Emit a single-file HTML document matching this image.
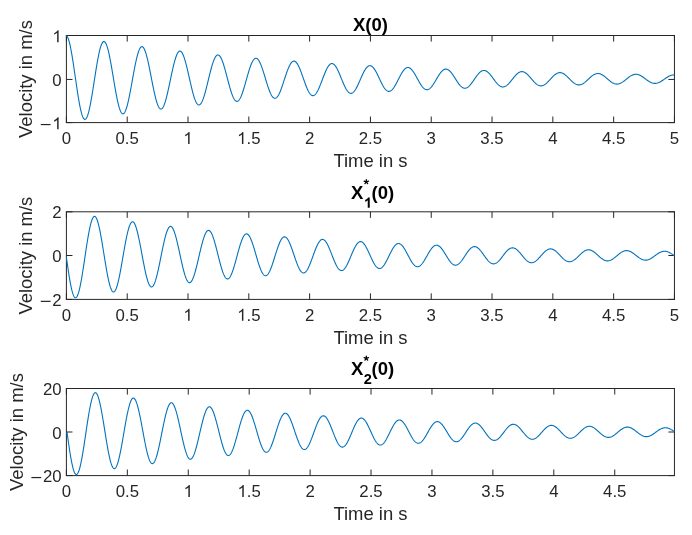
<!DOCTYPE html>
<html><head><meta charset="utf-8"><style>
html,body{margin:0;padding:0;background:#fff;overflow:hidden}
svg{display:block}
.t text{filter:grayscale(1);font-family:"Liberation Sans",sans-serif}
</style></head><body>
<svg width="692" height="535" viewBox="0 0 692 535" font-family="Liberation Sans">
<rect width="692" height="535" fill="#fff"/>
<path d="M66.40,122.60V116.52M66.40,35.50V41.58M127.21,122.60V116.52M127.21,35.50V41.58M188.01,122.60V116.52M188.01,35.50V41.58M248.82,122.60V116.52M248.82,35.50V41.58M309.62,122.60V116.52M309.62,35.50V41.58M370.43,122.60V116.52M370.43,35.50V41.58M431.23,122.60V116.52M431.23,35.50V41.58M492.04,122.60V116.52M492.04,35.50V41.58M552.84,122.60V116.52M552.84,35.50V41.58M613.65,122.60V116.52M613.65,35.50V41.58M674.45,122.60V116.52M674.45,35.50V41.58M66.40,122.60H72.48M674.45,122.60H668.37M66.40,79.45H72.48M674.45,79.45H668.37M66.40,35.50H72.48M674.45,35.50H668.37" stroke="#262626" stroke-width="1" fill="none"/>
<path d="M65.90,35.50H674.95M65.90,122.60H674.95M66.40,35.50V122.60M674.45,35.50V122.60" fill="none" stroke="#262626" stroke-width="1"/>
<polyline fill="none" stroke="#0072bd" stroke-width="1.1" stroke-linejoin="round" points="66.40,35.64 66.80,35.96 67.20,36.47 67.60,37.16 68.00,38.04 68.40,39.09 68.80,40.31 69.20,41.69 69.60,43.24 70.00,44.94 70.40,46.78 70.80,48.75 71.20,50.85 71.60,53.07 72.00,55.40 72.40,57.82 72.80,60.32 73.20,62.90 73.60,65.54 74.00,68.23 74.40,70.96 74.80,73.72 75.20,76.49 75.60,79.27 76.00,82.03 76.40,84.77 76.80,87.48 77.20,90.15 77.60,92.75 78.00,95.29 78.40,97.75 78.80,100.12 79.20,102.39 79.60,104.55 80.00,106.59 80.40,108.51 80.80,110.29 81.20,111.93 81.60,113.41 82.00,114.75 82.40,115.92 82.80,116.93 83.20,117.77 83.60,118.44 84.00,118.93 84.40,119.25 84.80,119.39 85.20,119.36 85.60,119.14 86.00,118.76 86.40,118.20 86.80,117.47 87.20,116.57 87.60,115.52 88.00,114.31 88.40,112.94 88.80,111.44 89.20,109.79 89.60,108.02 90.00,106.12 90.40,104.12 90.80,102.01 91.20,99.80 91.60,97.51 92.00,95.15 92.40,92.72 92.80,90.25 93.20,87.73 93.60,85.18 94.00,82.61 94.40,80.03 94.80,77.46 95.20,74.90 95.60,72.37 96.00,69.87 96.40,67.42 96.80,65.03 97.20,62.71 97.60,60.47 98.00,58.31 98.40,56.25 98.80,54.30 99.20,52.46 99.60,50.75 100.00,49.16 100.40,47.71 100.80,46.39 101.20,45.23 101.60,44.22 102.00,43.36 102.40,42.66 102.80,42.12 103.20,41.74 103.60,41.53 104.00,41.48 104.40,41.60 104.80,41.88 105.20,42.32 105.60,42.92 106.00,43.67 106.40,44.58 106.80,45.63 107.20,46.83 107.60,48.16 108.00,49.63 108.40,51.22 108.80,52.92 109.20,54.74 109.60,56.65 110.00,58.65 110.40,60.74 110.80,62.90 111.20,65.13 111.60,67.41 112.00,69.73 112.40,72.09 112.80,74.46 113.20,76.86 113.60,79.25 114.00,81.63 114.40,84.00 114.80,86.33 115.20,88.63 115.60,90.88 116.00,93.07 116.40,95.19 116.80,97.23 117.20,99.19 117.60,101.05 118.00,102.81 118.40,104.46 118.80,106.00 119.20,107.41 119.60,108.70 120.00,109.85 120.40,110.86 120.80,111.73 121.20,112.45 121.60,113.02 122.00,113.45 122.40,113.72 122.80,113.84 123.20,113.81 123.60,113.63 124.00,113.29 124.40,112.81 124.80,112.18 125.20,111.40 125.60,110.49 126.00,109.45 126.40,108.27 126.80,106.97 127.21,105.55 127.61,104.02 128.01,102.38 128.41,100.65 128.81,98.83 129.21,96.93 129.61,94.95 130.01,92.91 130.41,90.82 130.81,88.68 131.21,86.51 131.61,84.31 132.01,82.09 132.41,79.87 132.81,77.65 133.21,75.44 133.61,73.26 134.01,71.11 134.41,69.00 134.81,66.94 135.21,64.93 135.61,63.00 136.01,61.14 136.41,59.37 136.81,57.68 137.21,56.10 137.61,54.62 138.01,53.25 138.41,52.00 138.81,50.87 139.21,49.86 139.61,48.99 140.01,48.25 140.41,47.65 140.81,47.18 141.21,46.86 141.61,46.68 142.01,46.64 142.41,46.74 142.81,46.98 143.21,47.36 143.61,47.88 144.01,48.53 144.41,49.31 144.81,50.23 145.21,51.26 145.61,52.41 146.01,53.67 146.41,55.05 146.81,56.52 147.21,58.08 147.61,59.73 148.01,61.46 148.41,63.27 148.81,65.13 149.21,67.05 149.61,69.02 150.01,71.02 150.41,73.05 150.81,75.10 151.21,77.17 151.61,79.23 152.01,81.29 152.41,83.33 152.81,85.34 153.21,87.32 153.61,89.26 154.01,91.15 154.41,92.98 154.81,94.74 155.21,96.43 155.61,98.03 156.01,99.55 156.41,100.98 156.81,102.30 157.21,103.52 157.61,104.62 158.01,105.61 158.41,106.49 158.81,107.23 159.21,107.86 159.61,108.35 160.01,108.72 160.41,108.95 160.81,109.06 161.21,109.03 161.61,108.87 162.01,108.58 162.41,108.16 162.81,107.61 163.21,106.95 163.61,106.16 164.01,105.25 164.41,104.24 164.81,103.12 165.21,101.89 165.61,100.57 166.01,99.16 166.41,97.66 166.81,96.09 167.21,94.45 167.61,92.75 168.01,90.99 168.41,89.18 168.81,87.34 169.21,85.46 169.61,83.57 170.01,81.65 170.41,79.74 170.81,77.82 171.21,75.92 171.61,74.03 172.01,72.18 172.41,70.36 172.81,68.58 173.21,66.85 173.61,65.18 174.01,63.58 174.41,62.05 174.81,60.60 175.21,59.23 175.61,57.96 176.01,56.78 176.41,55.70 176.81,54.73 177.21,53.86 177.61,53.11 178.01,52.47 178.41,51.95 178.81,51.55 179.21,51.27 179.61,51.12 180.01,51.08 180.41,51.17 180.81,51.38 181.21,51.71 181.61,52.16 182.01,52.72 182.41,53.40 182.81,54.19 183.21,55.08 183.61,56.07 184.01,57.16 184.41,58.35 184.81,59.62 185.21,60.97 185.61,62.39 186.01,63.89 186.41,65.44 186.81,67.05 187.21,68.71 187.61,70.40 188.01,72.13 188.41,73.88 188.81,75.65 189.21,77.43 189.61,79.21 190.01,80.99 190.41,82.75 190.81,84.48 191.21,86.19 191.61,87.86 192.01,89.49 192.41,91.07 192.81,92.59 193.21,94.04 193.61,95.43 194.01,96.74 194.41,97.97 194.81,99.11 195.21,100.16 195.61,101.11 196.01,101.96 196.41,102.71 196.81,103.36 197.21,103.90 197.61,104.32 198.01,104.64 198.41,104.84 198.81,104.93 199.21,104.90 199.61,104.76 200.01,104.51 200.41,104.15 200.81,103.68 201.21,103.10 201.61,102.42 202.01,101.64 202.41,100.76 202.81,99.79 203.21,98.74 203.61,97.60 204.01,96.38 204.41,95.09 204.81,93.73 205.21,92.32 205.61,90.85 206.01,89.33 206.41,87.77 206.81,86.18 207.21,84.56 207.61,82.93 208.01,81.28 208.41,79.62 208.81,77.97 209.21,76.33 209.61,74.70 210.01,73.10 210.41,71.53 210.81,70.00 211.21,68.51 211.61,67.07 212.01,65.69 212.41,64.37 212.81,63.12 213.21,61.94 213.61,60.84 214.01,59.82 214.41,58.89 214.81,58.05 215.21,57.31 215.61,56.66 216.01,56.11 216.41,55.67 216.81,55.32 217.21,55.08 217.61,54.95 218.01,54.92 218.41,55.00 218.81,55.18 219.21,55.46 219.61,55.85 220.01,56.34 220.41,56.92 220.81,57.60 221.21,58.37 221.61,59.23 222.01,60.17 222.41,61.19 222.81,62.29 223.21,63.45 223.61,64.68 224.01,65.97 224.41,67.31 224.81,68.70 225.21,70.13 225.61,71.60 226.01,73.09 226.41,74.60 226.81,76.13 227.21,77.66 227.61,79.20 228.01,80.73 228.41,82.24 228.81,83.74 229.21,85.22 229.61,86.66 230.01,88.06 230.41,89.42 230.81,90.73 231.21,91.99 231.61,93.18 232.01,94.31 232.41,95.37 232.81,96.35 233.21,97.26 233.61,98.08 234.01,98.81 234.41,99.46 234.81,100.02 235.21,100.48 235.61,100.85 236.01,101.12 236.41,101.29 236.81,101.36 237.21,101.34 237.61,101.22 238.01,101.00 238.41,100.69 238.81,100.28 239.21,99.79 239.61,99.20 240.01,98.52 240.41,97.77 240.81,96.93 241.21,96.02 241.61,95.03 242.01,93.98 242.41,92.87 242.81,91.70 243.21,90.48 243.61,89.21 244.01,87.90 244.41,86.56 244.81,85.18 245.21,83.79 245.61,82.37 246.01,80.95 246.41,79.53 246.81,78.10 247.21,76.69 247.61,75.28 248.01,73.90 248.41,72.55 248.82,71.23 249.22,69.94 249.62,68.70 250.02,67.51 250.42,66.37 250.82,65.29 251.22,64.28 251.62,63.33 252.02,62.45 252.42,61.65 252.82,60.93 253.22,60.29 253.62,59.73 254.02,59.25 254.42,58.87 254.82,58.57 255.22,58.37 255.62,58.25 256.02,58.23 256.42,58.30 256.82,58.45 257.22,58.70 257.62,59.03 258.02,59.46 258.42,59.96 258.82,60.55 259.22,61.21 259.62,61.95 260.02,62.77 260.42,63.65 260.82,64.59 261.22,65.60 261.62,66.66 262.02,67.77 262.42,68.93 262.82,70.13 263.22,71.36 263.62,72.62 264.02,73.91 264.42,75.21 264.82,76.53 265.22,77.85 265.62,79.18 266.02,80.50 266.42,81.81 266.82,83.10 267.22,84.37 267.62,85.62 268.02,86.83 268.42,88.00 268.82,89.13 269.22,90.21 269.62,91.24 270.02,92.21 270.42,93.13 270.82,93.97 271.22,94.75 271.62,95.46 272.02,96.10 272.42,96.65 272.82,97.13 273.22,97.53 273.62,97.85 274.02,98.08 274.42,98.23 274.82,98.29 275.22,98.27 275.62,98.17 276.02,97.98 276.42,97.71 276.82,97.36 277.22,96.93 277.62,96.42 278.02,95.84 278.42,95.18 278.82,94.46 279.22,93.67 279.62,92.82 280.02,91.92 280.42,90.96 280.82,89.95 281.22,88.89 281.62,87.80 282.02,86.67 282.42,85.51 282.82,84.32 283.22,83.12 283.62,81.90 284.02,80.67 284.42,79.44 284.82,78.22 285.22,76.99 285.62,75.78 286.02,74.59 286.42,73.43 286.82,72.29 287.22,71.18 287.62,70.11 288.02,69.08 288.42,68.10 288.82,67.17 289.22,66.29 289.62,65.48 290.02,64.72 290.42,64.03 290.82,63.41 291.22,62.85 291.62,62.37 292.02,61.96 292.42,61.63 292.82,61.38 293.22,61.20 293.62,61.10 294.02,61.08 294.42,61.14 294.82,61.28 295.22,61.49 295.62,61.78 296.02,62.14 296.42,62.58 296.82,63.09 297.22,63.66 297.62,64.30 298.02,65.00 298.42,65.76 298.82,66.58 299.22,67.45 299.62,68.36 300.02,69.32 300.42,70.32 300.82,71.35 301.22,72.42 301.62,73.51 302.02,74.62 302.42,75.74 302.82,76.88 303.22,78.02 303.62,79.16 304.02,80.30 304.42,81.43 304.82,82.55 305.22,83.64 305.62,84.71 306.02,85.76 306.42,86.77 306.82,87.74 307.22,88.68 307.62,89.56 308.02,90.40 308.42,91.19 308.82,91.92 309.22,92.59 309.62,93.20 310.02,93.75 310.42,94.23 310.82,94.64 311.22,94.99 311.62,95.26 312.02,95.46 312.42,95.59 312.82,95.64 313.22,95.62 313.62,95.53 314.02,95.37 314.42,95.13 314.82,94.83 315.22,94.46 315.62,94.02 316.02,93.52 316.42,92.95 316.82,92.33 317.22,91.65 317.62,90.92 318.02,90.14 318.42,89.31 318.82,88.43 319.22,87.52 319.62,86.58 320.02,85.61 320.42,84.61 320.82,83.58 321.22,82.55 321.62,81.49 322.02,80.44 322.42,79.37 322.82,78.31 323.22,77.26 323.62,76.22 324.02,75.19 324.42,74.18 324.82,73.20 325.22,72.25 325.62,71.32 326.02,70.44 326.42,69.59 326.82,68.79 327.22,68.03 327.62,67.33 328.02,66.68 328.42,66.08 328.82,65.55 329.22,65.07 329.62,64.65 330.02,64.30 330.42,64.02 330.82,63.80 331.22,63.65 331.62,63.56 332.02,63.55 332.42,63.60 332.82,63.71 333.22,63.90 333.62,64.15 334.02,64.46 334.42,64.84 334.82,65.28 335.22,65.77 335.62,66.33 336.02,66.93 336.42,67.59 336.82,68.29 337.22,69.04 337.62,69.83 338.02,70.66 338.42,71.52 338.82,72.41 339.22,73.33 339.62,74.27 340.02,75.23 340.42,76.20 340.82,77.18 341.22,78.16 341.62,79.15 342.02,80.13 342.42,81.10 342.82,82.07 343.22,83.01 343.62,83.94 344.02,84.84 344.42,85.71 344.82,86.55 345.22,87.35 345.62,88.12 346.02,88.84 346.42,89.52 346.82,90.15 347.22,90.73 347.62,91.26 348.02,91.73 348.42,92.14 348.82,92.50 349.22,92.79 349.62,93.03 350.02,93.20 350.42,93.31 350.82,93.35 351.22,93.34 351.62,93.26 352.02,93.12 352.42,92.92 352.82,92.65 353.22,92.33 353.62,91.95 354.02,91.52 354.42,91.03 354.82,90.49 355.22,89.91 355.62,89.28 356.02,88.60 356.42,87.88 356.82,87.13 357.22,86.35 357.62,85.53 358.02,84.69 358.42,83.83 358.82,82.95 359.22,82.05 359.62,81.14 360.02,80.23 360.42,79.32 360.82,78.40 361.22,77.49 361.62,76.59 362.02,75.71 362.42,74.84 362.82,73.99 363.22,73.17 363.62,72.37 364.02,71.61 364.42,70.88 364.82,70.19 365.22,69.54 365.62,68.93 366.02,68.37 366.42,67.85 366.82,67.39 367.22,66.98 367.62,66.62 368.02,66.32 368.42,66.07 368.82,65.89 369.22,65.76 369.62,65.68 370.02,65.67 370.43,65.71 370.83,65.82 371.23,65.98 371.63,66.19 372.03,66.46 372.43,66.79 372.83,67.17 373.23,67.59 373.63,68.07 374.03,68.59 374.43,69.16 374.83,69.77 375.23,70.41 375.63,71.10 376.03,71.81 376.43,72.55 376.83,73.32 377.23,74.12 377.63,74.93 378.03,75.75 378.43,76.59 378.83,77.43 379.23,78.28 379.63,79.13 380.03,79.98 380.43,80.82 380.83,81.65 381.23,82.47 381.63,83.26 382.03,84.04 382.43,84.79 382.83,85.52 383.23,86.21 383.63,86.87 384.03,87.49 384.43,88.08 384.83,88.62 385.23,89.12 385.63,89.57 386.03,89.98 386.43,90.34 386.83,90.64 387.23,90.90 387.63,91.10 388.03,91.25 388.43,91.34 388.83,91.38 389.23,91.37 389.63,91.30 390.03,91.18 390.43,91.00 390.83,90.77 391.23,90.50 391.63,90.17 392.03,89.80 392.43,89.38 392.83,88.91 393.23,88.40 393.63,87.86 394.03,87.28 394.43,86.66 394.83,86.01 395.23,85.33 395.63,84.63 396.03,83.90 396.43,83.16 396.83,82.40 397.23,81.63 397.63,80.84 398.03,80.06 398.43,79.27 398.83,78.48 399.23,77.69 399.63,76.92 400.03,76.15 400.43,75.40 400.83,74.67 401.23,73.96 401.63,73.28 402.03,72.62 402.43,71.99 402.83,71.39 403.23,70.83 403.63,70.31 404.03,69.82 404.43,69.38 404.83,68.98 405.23,68.63 405.63,68.32 406.03,68.06 406.43,67.85 406.83,67.69 407.23,67.57 407.63,67.51 408.03,67.50 408.43,67.54 408.83,67.63 409.23,67.77 409.63,67.95 410.03,68.19 410.43,68.47 410.83,68.79 411.23,69.16 411.63,69.58 412.03,70.03 412.43,70.52 412.83,71.04 413.23,71.60 413.63,72.19 414.03,72.80 414.43,73.45 414.83,74.11 415.23,74.79 415.63,75.49 416.03,76.20 416.43,76.93 416.83,77.66 417.23,78.39 417.63,79.12 418.03,79.85 418.43,80.58 418.83,81.29 419.23,82.00 419.63,82.68 420.03,83.35 420.43,84.00 420.83,84.63 421.23,85.22 421.63,85.79 422.03,86.33 422.43,86.84 422.83,87.30 423.23,87.73 423.63,88.12 424.03,88.47 424.43,88.78 424.83,89.05 425.23,89.26 425.63,89.44 426.03,89.57 426.43,89.65 426.83,89.68 427.23,89.67 427.63,89.61 428.03,89.50 428.43,89.35 428.83,89.16 429.23,88.92 429.63,88.63 430.03,88.31 430.43,87.95 430.83,87.55 431.23,87.11 431.63,86.64 432.03,86.13 432.43,85.60 432.83,85.04 433.23,84.46 433.63,83.85 434.03,83.22 434.43,82.58 434.83,81.93 435.23,81.26 435.63,80.59 436.03,79.91 436.43,79.22 436.83,78.54 437.23,77.87 437.63,77.20 438.03,76.54 438.43,75.89 438.83,75.26 439.23,74.65 439.63,74.06 440.03,73.49 440.43,72.95 440.83,72.44 441.23,71.95 441.63,71.50 442.03,71.08 442.43,70.70 442.83,70.36 443.23,70.05 443.63,69.79 444.03,69.56 444.43,69.38 444.83,69.24 445.23,69.14 445.63,69.09 446.03,69.08 446.43,69.12 446.83,69.19 447.23,69.31 447.63,69.47 448.03,69.68 448.43,69.92 448.83,70.20 449.23,70.52 449.63,70.87 450.03,71.26 450.43,71.69 450.83,72.14 451.23,72.62 451.63,73.13 452.03,73.66 452.43,74.21 452.83,74.79 453.23,75.37 453.63,75.98 454.03,76.59 454.43,77.22 454.83,77.85 455.23,78.48 455.63,79.11 456.03,79.74 456.43,80.37 456.83,80.98 457.23,81.59 457.63,82.18 458.03,82.76 458.43,83.32 458.83,83.86 459.23,84.37 459.63,84.86 460.03,85.33 460.43,85.76 460.83,86.17 461.23,86.54 461.63,86.87 462.03,87.17 462.43,87.44 462.83,87.67 463.23,87.86 463.63,88.00 464.03,88.11 464.43,88.18 464.83,88.21 465.23,88.20 465.63,88.15 466.03,88.06 466.43,87.93 466.83,87.76 467.23,87.55 467.63,87.31 468.03,87.03 468.43,86.71 468.83,86.37 469.23,85.99 469.63,85.58 470.03,85.15 470.43,84.69 470.83,84.21 471.23,83.70 471.63,83.18 472.03,82.64 472.43,82.09 472.83,81.52 473.23,80.94 473.63,80.36 474.03,79.78 474.43,79.19 474.83,78.60 475.23,78.02 475.63,77.44 476.03,76.87 476.43,76.32 476.83,75.77 477.23,75.24 477.63,74.73 478.03,74.24 478.43,73.78 478.83,73.33 479.23,72.92 479.63,72.53 480.03,72.17 480.43,71.84 480.83,71.54 481.23,71.28 481.63,71.05 482.03,70.86 482.43,70.70 482.83,70.58 483.23,70.50 483.63,70.45 484.03,70.44 484.43,70.47 484.83,70.54 485.23,70.64 485.63,70.78 486.03,70.96 486.43,71.17 486.83,71.41 487.23,71.69 487.63,71.99 488.03,72.33 488.43,72.69 488.83,73.08 489.23,73.50 489.63,73.94 490.03,74.40 490.43,74.87 490.83,75.37 491.23,75.88 491.63,76.40 492.04,76.93 492.44,77.47 492.84,78.01 493.24,78.55 493.64,79.10 494.04,79.64 494.44,80.18 494.84,80.71 495.24,81.24 495.64,81.75 496.04,82.25 496.44,82.73 496.84,83.19 497.24,83.64 497.64,84.06 498.04,84.46 498.44,84.84 498.84,85.18 499.24,85.50 499.64,85.79 500.04,86.05 500.44,86.28 500.84,86.48 501.24,86.64 501.64,86.77 502.04,86.86 502.44,86.92 502.84,86.95 503.24,86.94 503.64,86.89 504.04,86.81 504.44,86.70 504.84,86.55 505.24,86.37 505.64,86.16 506.04,85.92 506.44,85.65 506.84,85.35 507.24,85.03 507.64,84.68 508.04,84.30 508.44,83.91 508.84,83.49 509.24,83.05 509.64,82.60 510.04,82.14 510.44,81.66 510.84,81.17 511.24,80.67 511.64,80.17 512.04,79.67 512.44,79.16 512.84,78.65 513.24,78.15 513.64,77.65 514.04,77.16 514.44,76.68 514.84,76.21 515.24,75.76 515.64,75.32 516.04,74.89 516.44,74.49 516.84,74.11 517.24,73.75 517.64,73.41 518.04,73.10 518.44,72.82 518.84,72.57 519.24,72.34 519.64,72.14 520.04,71.98 520.44,71.84 520.84,71.74 521.24,71.67 521.64,71.63 522.04,71.62 522.44,71.65 522.84,71.70 523.24,71.79 523.64,71.91 524.04,72.06 524.44,72.25 524.84,72.46 525.24,72.69 525.64,72.96 526.04,73.25 526.44,73.56 526.84,73.90 527.24,74.26 527.64,74.64 528.04,75.03 528.44,75.44 528.84,75.87 529.24,76.31 529.64,76.76 530.04,77.22 530.44,77.68 530.84,78.15 531.24,78.62 531.64,79.09 532.04,79.56 532.44,80.02 532.84,80.48 533.24,80.93 533.64,81.37 534.04,81.80 534.44,82.22 534.84,82.62 535.24,83.00 535.64,83.37 536.04,83.71 536.44,84.04 536.84,84.34 537.24,84.61 537.64,84.86 538.04,85.09 538.44,85.28 538.84,85.45 539.24,85.59 539.64,85.70 540.04,85.78 540.44,85.83 540.84,85.85 541.24,85.85 541.64,85.81 542.04,85.74 542.44,85.64 542.84,85.51 543.24,85.36 543.64,85.18 544.04,84.97 544.44,84.74 544.84,84.48 545.24,84.20 545.64,83.89 546.04,83.57 546.44,83.23 546.84,82.87 547.24,82.49 547.64,82.10 548.04,81.70 548.44,81.29 548.84,80.87 549.24,80.44 549.64,80.01 550.04,79.57 550.44,79.13 550.84,78.70 551.24,78.26 551.64,77.83 552.04,77.41 552.44,77.00 552.84,76.59 553.24,76.20 553.64,75.82 554.04,75.46 554.44,75.11 554.84,74.78 555.24,74.47 555.64,74.18 556.04,73.91 556.44,73.67 556.84,73.45 557.24,73.25 557.64,73.08 558.04,72.94 558.44,72.82 558.84,72.73 559.24,72.67 559.64,72.64 560.04,72.63 560.44,72.66 560.84,72.71 561.24,72.78 561.64,72.89 562.04,73.02 562.44,73.18 562.84,73.36 563.24,73.56 563.64,73.79 564.04,74.04 564.44,74.31 564.84,74.60 565.24,74.91 565.64,75.24 566.04,75.58 566.44,75.94 566.84,76.30 567.24,76.68 567.64,77.07 568.04,77.46 568.44,77.86 568.84,78.27 569.24,78.67 569.64,79.08 570.04,79.48 570.44,79.89 570.84,80.28 571.24,80.67 571.64,81.05 572.04,81.42 572.44,81.78 572.84,82.13 573.24,82.46 573.64,82.77 574.04,83.07 574.44,83.35 574.84,83.60 575.24,83.84 575.64,84.06 576.04,84.25 576.44,84.42 576.84,84.57 577.24,84.69 577.64,84.78 578.04,84.85 578.44,84.89 578.84,84.91 579.24,84.90 579.64,84.87 580.04,84.81 580.44,84.73 580.84,84.62 581.24,84.48 581.64,84.33 582.04,84.15 582.44,83.95 582.84,83.72 583.24,83.48 583.64,83.22 584.04,82.94 584.44,82.65 584.84,82.34 585.24,82.01 585.64,81.67 586.04,81.33 586.44,80.97 586.84,80.61 587.24,80.24 587.64,79.87 588.04,79.49 588.44,79.11 588.84,78.74 589.24,78.36 589.64,77.99 590.04,77.63 590.44,77.27 590.84,76.92 591.24,76.58 591.64,76.25 592.04,75.94 592.44,75.64 592.84,75.36 593.24,75.09 593.64,74.84 594.04,74.61 594.44,74.40 594.84,74.21 595.24,74.04 595.64,73.90 596.04,73.77 596.44,73.67 596.84,73.60 597.24,73.54 597.64,73.51 598.04,73.51 598.44,73.53 598.84,73.57 599.24,73.64 599.64,73.73 600.04,73.84 600.44,73.98 600.84,74.13 601.24,74.31 601.64,74.51 602.04,74.72 602.44,74.96 602.84,75.21 603.24,75.48 603.64,75.76 604.04,76.05 604.44,76.36 604.84,76.68 605.24,77.00 605.64,77.34 606.04,77.68 606.44,78.02 606.84,78.37 607.24,78.72 607.64,79.07 608.04,79.42 608.44,79.77 608.84,80.11 609.24,80.44 609.64,80.77 610.04,81.09 610.44,81.40 610.84,81.70 611.24,81.98 611.64,82.25 612.04,82.51 612.44,82.75 612.84,82.97 613.24,83.18 613.65,83.36 614.05,83.53 614.45,83.68 614.85,83.80 615.25,83.91 615.65,83.99 616.05,84.05 616.45,84.08 616.85,84.10 617.25,84.09 617.65,84.06 618.05,84.01 618.45,83.94 618.85,83.85 619.25,83.73 619.65,83.59 620.05,83.44 620.45,83.27 620.85,83.07 621.25,82.86 621.65,82.64 622.05,82.40 622.45,82.14 622.85,81.87 623.25,81.60 623.65,81.30 624.05,81.01 624.45,80.70 624.85,80.39 625.25,80.07 625.65,79.74 626.05,79.42 626.45,79.09 626.85,78.77 627.25,78.45 627.65,78.13 628.05,77.81 628.45,77.50 628.85,77.20 629.25,76.91 629.65,76.63 630.05,76.36 630.45,76.10 630.85,75.86 631.25,75.63 631.65,75.41 632.05,75.21 632.45,75.03 632.85,74.87 633.25,74.72 633.65,74.60 634.05,74.49 634.45,74.40 634.85,74.34 635.25,74.29 635.65,74.27 636.05,74.26 636.45,74.28 636.85,74.32 637.25,74.38 637.65,74.45 638.05,74.55 638.45,74.67 638.85,74.80 639.25,74.96 639.65,75.13 640.05,75.31 640.45,75.52 640.85,75.73 641.25,75.96 641.65,76.21 642.05,76.46 642.45,76.72 642.85,77.00 643.25,77.28 643.65,77.57 644.05,77.86 644.45,78.16 644.85,78.46 645.25,78.76 645.65,79.06 646.05,79.37 646.45,79.66 646.85,79.96 647.25,80.25 647.65,80.53 648.05,80.81 648.45,81.07 648.85,81.33 649.25,81.58 649.65,81.81 650.05,82.03 650.45,82.24 650.85,82.43 651.25,82.61 651.65,82.77 652.05,82.91 652.45,83.03 652.85,83.14 653.25,83.23 653.65,83.30 654.05,83.35 654.45,83.39 654.85,83.40 655.25,83.39 655.65,83.37 656.05,83.32 656.45,83.26 656.85,83.18 657.25,83.08 657.65,82.96 658.05,82.83 658.45,82.68 658.85,82.51 659.25,82.33 659.65,82.14 660.05,81.93 660.45,81.71 660.85,81.48 661.25,81.24 661.65,80.99 662.05,80.73 662.45,80.46 662.85,80.19 663.25,79.92 663.65,79.64 664.05,79.36 664.45,79.08 664.85,78.80 665.25,78.52 665.65,78.25 666.05,77.97 666.45,77.71 666.85,77.45 667.25,77.20 667.65,76.95 668.05,76.72 668.45,76.50 668.85,76.29 669.25,76.09 669.65,75.90 670.05,75.73 670.45,75.57 670.85,75.43 671.25,75.31 671.65,75.20 672.05,75.11 672.45,75.03 672.85,74.98 673.25,74.94 673.65,74.92 674.05,74.91 674.45,74.93"/>
<g class="t">
<text x="61.73" y="143.90" font-size="16.8" fill="#262626">0</text>
<text x="115.53" y="143.90" font-size="16.8" fill="#262626">0.5</text>
<path transform="translate(183.34,143.90) scale(0.00820,-0.00820)" d="M763 0L583 0L583 1147Q518 1085 412 1023Q306 961 222 930L222 1104Q373 1175 486 1276Q599 1377 646 1466L763 1466Z" fill="#262626"/>
<path transform="translate(237.14,143.90) scale(0.00820,-0.00820)" d="M763 0L583 0L583 1147Q518 1085 412 1023Q306 961 222 930L222 1104Q373 1175 486 1276Q599 1377 646 1466L763 1466Z" fill="#262626"/>
<text x="246.48" y="143.90" font-size="16.8" fill="#262626">.5</text>
<text x="304.95" y="143.90" font-size="16.8" fill="#262626">2</text>
<text x="358.75" y="143.90" font-size="16.8" fill="#262626">2.5</text>
<text x="426.56" y="143.90" font-size="16.8" fill="#262626">3</text>
<text x="480.36" y="143.90" font-size="16.8" fill="#262626">3.5</text>
<text x="548.17" y="143.90" font-size="16.8" fill="#262626">4</text>
<text x="601.97" y="143.90" font-size="16.8" fill="#262626">4.5</text>
<text x="669.78" y="143.90" font-size="16.8" fill="#262626">5</text>
<path transform="translate(52.36,129.31) scale(0.00820,-0.00820)" d="M763 0L583 0L583 1147Q518 1085 412 1023Q306 961 222 930L222 1104Q373 1175 486 1276Q599 1377 646 1466L763 1466Z" fill="#262626"/>
<rect x="40.76" y="123.96" width="9.8" height="1.2" fill="#262626"/>
<text x="52.36" y="85.76" font-size="16.8" fill="#262626">0</text>
<path transform="translate(52.36,42.21) scale(0.00820,-0.00820)" d="M763 0L583 0L583 1147Q518 1085 412 1023Q306 961 222 930L222 1104Q373 1175 486 1276Q599 1377 646 1466L763 1466Z" fill="#262626"/>
<text font-size="18.45" fill="#262626" text-anchor="middle" x="370.43" y="167.00">Time in s</text>
<text font-size="18.45" fill="#262626" text-anchor="middle" transform="translate(32.20,79.05) rotate(-90)">Velocity in m/s</text>
<text font-weight="bold" font-size="18.5" fill="#000" text-anchor="middle" x="370.4" y="30.8">X(0)</text>
</g>
<path d="M66.40,299.40V293.32M66.40,211.80V217.88M127.21,299.40V293.32M127.21,211.80V217.88M188.01,299.40V293.32M188.01,211.80V217.88M248.82,299.40V293.32M248.82,211.80V217.88M309.62,299.40V293.32M309.62,211.80V217.88M370.43,299.40V293.32M370.43,211.80V217.88M431.23,299.40V293.32M431.23,211.80V217.88M492.04,299.40V293.32M492.04,211.80V217.88M552.84,299.40V293.32M552.84,211.80V217.88M613.65,299.40V293.32M613.65,211.80V217.88M674.45,299.40V293.32M674.45,211.80V217.88M66.40,299.40H72.48M674.45,299.40H668.37M66.40,255.50H72.48M674.45,255.50H668.37M66.40,211.80H72.48M674.45,211.80H668.37" stroke="#262626" stroke-width="1" fill="none"/>
<path d="M65.90,211.80H674.95M65.90,299.40H674.95M66.40,211.80V299.40M674.45,211.80V299.40" fill="none" stroke="#262626" stroke-width="1"/>
<polyline fill="none" stroke="#0072bd" stroke-width="1.1" stroke-linejoin="round" points="66.40,257.21 66.80,260.09 67.20,262.94 67.60,265.75 68.00,268.51 68.40,271.20 68.80,273.82 69.20,276.34 69.60,278.77 70.00,281.09 70.40,283.29 70.80,285.36 71.20,287.30 71.60,289.09 72.00,290.73 72.40,292.20 72.80,293.52 73.20,294.66 73.60,295.64 74.00,296.43 74.40,297.04 74.80,297.47 75.20,297.71 75.60,297.77 76.00,297.64 76.40,297.33 76.80,296.84 77.20,296.17 77.60,295.33 78.00,294.31 78.40,293.13 78.80,291.79 79.20,290.29 79.60,288.64 80.00,286.86 80.40,284.94 80.80,282.91 81.20,280.76 81.60,278.50 82.00,276.15 82.40,273.72 82.80,271.22 83.20,268.66 83.60,266.05 84.00,263.40 84.40,260.72 84.80,258.03 85.20,255.34 85.60,252.65 86.00,249.99 86.40,247.36 86.80,244.78 87.20,242.25 87.60,239.78 88.00,237.39 88.40,235.09 88.80,232.89 89.20,230.79 89.60,228.80 90.00,226.94 90.40,225.21 90.80,223.62 91.20,222.17 91.60,220.87 92.00,219.73 92.40,218.75 92.80,217.93 93.20,217.28 93.60,216.80 94.00,216.48 94.40,216.34 94.80,216.38 95.20,216.58 95.60,216.95 96.00,217.49 96.40,218.20 96.80,219.06 97.20,220.08 97.60,221.26 98.00,222.58 98.40,224.04 98.80,225.63 99.20,227.35 99.60,229.19 100.00,231.14 100.40,233.18 100.80,235.32 101.20,237.54 101.60,239.83 102.00,242.19 102.40,244.59 102.80,247.04 103.20,249.51 103.60,252.01 104.00,254.51 104.40,257.00 104.80,259.49 105.20,261.95 105.60,264.37 106.00,266.75 106.40,269.07 106.80,271.32 107.20,273.50 107.60,275.60 108.00,277.59 108.40,279.49 108.80,281.28 109.20,282.95 109.60,284.49 110.00,285.90 110.40,287.18 110.80,288.31 111.20,289.30 111.60,290.13 112.00,290.82 112.40,291.34 112.80,291.71 113.20,291.92 113.60,291.97 114.00,291.86 114.40,291.59 114.80,291.16 115.20,290.59 115.60,289.86 116.00,288.98 116.40,287.96 116.80,286.80 117.20,285.50 117.60,284.08 118.00,282.54 118.40,280.89 118.80,279.13 119.20,277.28 119.60,275.33 120.00,273.31 120.40,271.21 120.80,269.05 121.20,266.84 121.60,264.59 122.00,262.30 122.40,259.99 122.80,257.67 123.20,255.35 123.60,253.03 124.00,250.74 124.40,248.47 124.80,246.24 125.20,244.06 125.60,241.93 126.00,239.87 126.40,237.89 126.80,235.99 127.21,234.18 127.61,232.46 128.01,230.86 128.41,229.37 128.81,228.00 129.21,226.75 129.61,225.63 130.01,224.64 130.41,223.80 130.81,223.09 131.21,222.53 131.61,222.12 132.01,221.85 132.41,221.73 132.81,221.76 133.21,221.94 133.61,222.26 134.01,222.73 134.41,223.33 134.81,224.08 135.21,224.97 135.61,225.98 136.01,227.12 136.41,228.38 136.81,229.76 137.21,231.24 137.61,232.82 138.01,234.50 138.41,236.27 138.81,238.12 139.21,240.03 139.61,242.01 140.01,244.04 140.41,246.11 140.81,248.22 141.21,250.36 141.61,252.51 142.01,254.67 142.41,256.82 142.81,258.96 143.21,261.08 143.61,263.17 144.01,265.22 144.41,267.23 144.81,269.17 145.21,271.05 145.61,272.85 146.01,274.58 146.41,276.21 146.81,277.75 147.21,279.19 147.61,280.52 148.01,281.74 148.41,282.84 148.81,283.82 149.21,284.67 149.61,285.39 150.01,285.97 150.41,286.43 150.81,286.74 151.21,286.92 151.61,286.96 152.01,286.87 152.41,286.64 152.81,286.27 153.21,285.77 153.61,285.14 154.01,284.38 154.41,283.50 154.81,282.49 155.21,281.38 155.61,280.15 156.01,278.82 156.41,277.40 156.81,275.88 157.21,274.28 157.61,272.60 158.01,270.85 158.41,269.04 158.81,267.18 159.21,265.27 159.61,263.33 160.01,261.36 160.41,259.37 160.81,257.36 161.21,255.36 161.61,253.36 162.01,251.38 162.41,249.43 162.81,247.50 163.21,245.62 163.61,243.79 164.01,242.01 164.41,240.30 164.81,238.66 165.21,237.10 165.61,235.63 166.01,234.24 166.41,232.96 166.81,231.77 167.21,230.70 167.61,229.73 168.01,228.89 168.41,228.16 168.81,227.55 169.21,227.07 169.61,226.71 170.01,226.48 170.41,226.38 170.81,226.40 171.21,226.56 171.61,226.84 172.01,227.24 172.41,227.77 172.81,228.41 173.21,229.17 173.61,230.05 174.01,231.03 174.41,232.12 174.81,233.31 175.21,234.59 175.61,235.96 176.01,237.41 176.41,238.93 176.81,240.52 177.21,242.18 177.61,243.88 178.01,245.64 178.41,247.43 178.81,249.24 179.21,251.09 179.61,252.94 180.01,254.80 180.41,256.66 180.81,258.51 181.21,260.34 181.61,262.14 182.01,263.91 182.41,265.64 182.81,267.31 183.21,268.93 183.61,270.49 184.01,271.98 184.41,273.39 184.81,274.71 185.21,275.95 185.61,277.10 186.01,278.15 186.41,279.10 186.81,279.94 187.21,280.67 187.61,281.29 188.01,281.80 188.41,282.19 188.81,282.46 189.21,282.61 189.61,282.65 190.01,282.56 190.41,282.36 190.81,282.04 191.21,281.61 191.61,281.07 192.01,280.41 192.41,279.65 192.81,278.78 193.21,277.82 193.61,276.76 194.01,275.62 194.41,274.39 194.81,273.08 195.21,271.69 195.61,270.25 196.01,268.74 196.41,267.18 196.81,265.57 197.21,263.92 197.61,262.25 198.01,260.55 198.41,258.83 198.81,257.10 199.21,255.37 199.61,253.65 200.01,251.94 200.41,250.26 200.81,248.60 201.21,246.97 201.61,245.39 202.01,243.86 202.41,242.39 202.81,240.97 203.21,239.63 203.61,238.35 204.01,237.16 204.41,236.05 204.81,235.03 205.21,234.11 205.61,233.27 206.01,232.54 206.41,231.92 206.81,231.39 207.21,230.98 207.61,230.67 208.01,230.47 208.41,230.39 208.81,230.41 209.21,230.54 209.61,230.78 210.01,231.13 210.41,231.59 210.81,232.15 211.21,232.80 211.61,233.56 212.01,234.41 212.41,235.35 212.81,236.37 213.21,237.48 213.61,238.66 214.01,239.91 214.41,241.23 214.81,242.60 215.21,244.03 215.61,245.50 216.01,247.01 216.41,248.55 216.81,250.12 217.21,251.71 217.61,253.31 218.01,254.92 218.41,256.52 218.81,258.11 219.21,259.69 219.61,261.25 220.01,262.77 220.41,264.26 220.81,265.71 221.21,267.10 221.61,268.45 222.01,269.73 222.41,270.94 222.81,272.09 223.21,273.16 223.61,274.15 224.01,275.05 224.41,275.87 224.81,276.59 225.21,277.22 225.61,277.76 226.01,278.19 226.41,278.53 226.81,278.76 227.21,278.89 227.61,278.92 228.01,278.85 228.41,278.68 228.81,278.40 229.21,278.03 229.61,277.56 230.01,276.99 230.41,276.33 230.81,275.59 231.21,274.75 231.61,273.84 232.01,272.85 232.41,271.79 232.81,270.66 233.21,269.47 233.61,268.22 234.01,266.92 234.41,265.57 234.81,264.18 235.21,262.76 235.61,261.32 236.01,259.85 236.41,258.37 236.81,256.88 237.21,255.39 237.61,253.90 238.01,252.43 238.41,250.97 238.81,249.54 239.21,248.14 239.61,246.78 240.01,245.46 240.41,244.18 240.81,242.97 241.21,241.81 241.61,240.71 242.01,239.68 242.41,238.72 242.81,237.85 243.21,237.05 243.61,236.33 244.01,235.70 244.41,235.16 244.81,234.71 245.21,234.35 245.61,234.09 246.01,233.92 246.41,233.84 246.81,233.86 247.21,233.98 247.61,234.19 248.01,234.49 248.41,234.88 248.82,235.37 249.22,235.93 249.62,236.59 250.02,237.32 250.42,238.13 250.82,239.02 251.22,239.97 251.62,240.99 252.02,242.07 252.42,243.20 252.82,244.39 253.22,245.62 253.62,246.89 254.02,248.19 254.42,249.53 254.82,250.88 255.22,252.25 255.62,253.63 256.02,255.02 256.42,256.40 256.82,257.77 257.22,259.13 257.62,260.47 258.02,261.79 258.42,263.07 258.82,264.32 259.22,265.53 259.62,266.68 260.02,267.79 260.42,268.84 260.82,269.82 261.22,270.74 261.62,271.60 262.02,272.38 262.42,273.08 262.82,273.71 263.22,274.25 263.62,274.71 264.02,275.08 264.42,275.37 264.82,275.57 265.22,275.69 265.62,275.71 266.02,275.65 266.42,275.50 266.82,275.26 267.22,274.94 267.62,274.53 268.02,274.04 268.42,273.47 268.82,272.83 269.22,272.11 269.62,271.32 270.02,270.47 270.42,269.55 270.82,268.57 271.22,267.55 271.62,266.47 272.02,265.34 272.42,264.18 272.82,262.99 273.22,261.76 273.62,260.51 274.02,259.25 274.42,257.97 274.82,256.68 275.22,255.40 275.62,254.12 276.02,252.85 276.42,251.59 276.82,250.36 277.22,249.15 277.62,247.97 278.02,246.84 278.42,245.74 278.82,244.69 279.22,243.69 279.62,242.74 280.02,241.85 280.42,241.03 280.82,240.27 281.22,239.58 281.62,238.97 282.02,238.42 282.42,237.96 282.82,237.57 283.22,237.26 283.62,237.04 284.02,236.89 284.42,236.83 284.82,236.84 285.22,236.95 285.62,237.13 286.02,237.39 286.42,237.73 286.82,238.14 287.22,238.63 287.62,239.20 288.02,239.83 288.42,240.53 288.82,241.29 289.22,242.12 289.62,243.00 290.02,243.93 290.42,244.91 290.82,245.93 291.22,246.99 291.62,248.09 292.02,249.21 292.42,250.36 292.82,251.53 293.22,252.71 293.62,253.90 294.02,255.10 294.42,256.29 294.82,257.48 295.22,258.65 295.62,259.81 296.02,260.94 296.42,262.05 296.82,263.12 297.22,264.16 297.62,265.16 298.02,266.11 298.42,267.02 298.82,267.87 299.22,268.66 299.62,269.40 300.02,270.07 300.42,270.68 300.82,271.21 301.22,271.68 301.62,272.08 302.02,272.40 302.42,272.65 302.82,272.82 303.22,272.92 303.62,272.94 304.02,272.89 304.42,272.75 304.82,272.55 305.22,272.27 305.62,271.92 306.02,271.50 306.42,271.01 306.82,270.45 307.22,269.83 307.62,269.15 308.02,268.41 308.42,267.62 308.82,266.78 309.22,265.89 309.62,264.96 310.02,263.99 310.42,262.99 310.82,261.96 311.22,260.90 311.62,259.82 312.02,258.73 312.42,257.63 312.82,256.52 313.22,255.41 313.62,254.31 314.02,253.21 314.42,252.13 314.82,251.06 315.22,250.02 315.62,249.01 316.02,248.03 316.42,247.08 316.82,246.17 317.22,245.31 317.62,244.49 318.02,243.73 318.42,243.02 318.82,242.37 319.22,241.77 319.62,241.24 320.02,240.77 320.42,240.37 320.82,240.04 321.22,239.77 321.62,239.58 322.02,239.45 322.42,239.40 322.82,239.42 323.22,239.50 323.62,239.66 324.02,239.89 324.42,240.18 324.82,240.54 325.22,240.96 325.62,241.45 326.02,242.00 326.42,242.60 326.82,243.26 327.22,243.97 327.62,244.73 328.02,245.53 328.42,246.38 328.82,247.26 329.22,248.18 329.62,249.12 330.02,250.09 330.42,251.08 330.82,252.09 331.22,253.11 331.62,254.14 332.02,255.17 332.42,256.20 332.82,257.22 333.22,258.23 333.62,259.23 334.02,260.21 334.42,261.16 334.82,262.09 335.22,262.99 335.62,263.85 336.02,264.67 336.42,265.45 336.82,266.18 337.22,266.87 337.62,267.50 338.02,268.08 338.42,268.60 338.82,269.07 339.22,269.47 339.62,269.81 340.02,270.09 340.42,270.30 340.82,270.45 341.22,270.53 341.62,270.55 342.02,270.50 342.42,270.39 342.82,270.21 343.22,269.97 343.62,269.67 344.02,269.30 344.42,268.88 344.82,268.40 345.22,267.86 345.62,267.28 346.02,266.64 346.42,265.96 346.82,265.23 347.22,264.46 347.62,263.66 348.02,262.82 348.42,261.96 348.82,261.07 349.22,260.16 349.62,259.23 350.02,258.29 350.42,257.34 350.82,256.38 351.22,255.42 351.62,254.47 352.02,253.52 352.42,252.59 352.82,251.67 353.22,250.77 353.62,249.90 354.02,249.05 354.42,248.24 354.82,247.46 355.22,246.71 355.62,246.01 356.02,245.35 356.42,244.74 356.82,244.17 357.22,243.66 357.62,243.20 358.02,242.80 358.42,242.46 358.82,242.17 359.22,241.94 359.62,241.77 360.02,241.66 360.42,241.62 360.82,241.63 361.22,241.71 361.62,241.84 362.02,242.04 362.42,242.29 362.82,242.60 363.22,242.97 363.62,243.39 364.02,243.86 364.42,244.38 364.82,244.95 365.22,245.57 365.62,246.22 366.02,246.91 366.42,247.64 366.82,248.41 367.22,249.20 367.62,250.01 368.02,250.85 368.42,251.70 368.82,252.57 369.22,253.45 369.62,254.34 370.02,255.23 370.43,256.12 370.83,257.00 371.23,257.87 371.63,258.73 372.03,259.57 372.43,260.40 372.83,261.20 373.23,261.97 373.63,262.71 374.03,263.42 374.43,264.09 374.83,264.73 375.23,265.32 375.63,265.86 376.03,266.36 376.43,266.81 376.83,267.21 377.23,267.56 377.63,267.85 378.03,268.09 378.43,268.28 378.83,268.40 379.23,268.47 379.63,268.49 380.03,268.45 380.43,268.35 380.83,268.19 381.23,267.99 381.63,267.72 382.03,267.41 382.43,267.04 382.83,266.63 383.23,266.17 383.63,265.66 384.03,265.11 384.43,264.52 384.83,263.89 385.23,263.23 385.63,262.54 386.03,261.82 386.43,261.07 386.83,260.30 387.23,259.52 387.63,258.72 388.03,257.90 388.43,257.08 388.83,256.26 389.23,255.43 389.63,254.61 390.03,253.80 390.43,252.99 390.83,252.20 391.23,251.42 391.63,250.67 392.03,249.94 392.43,249.24 392.83,248.56 393.23,247.92 393.63,247.32 394.03,246.75 394.43,246.22 394.83,245.73 395.23,245.29 395.63,244.90 396.03,244.55 396.43,244.25 396.83,244.01 397.23,243.81 397.63,243.66 398.03,243.57 398.43,243.53 398.83,243.55 399.23,243.61 399.63,243.73 400.03,243.90 400.43,244.12 400.83,244.38 401.23,244.70 401.63,245.06 402.03,245.47 402.43,245.92 402.83,246.41 403.23,246.94 403.63,247.51 404.03,248.11 404.43,248.73 404.83,249.39 405.23,250.07 405.63,250.78 406.03,251.50 406.43,252.24 406.83,252.99 407.23,253.75 407.63,254.51 408.03,255.28 408.43,256.04 408.83,256.80 409.23,257.56 409.63,258.30 410.03,259.03 410.43,259.74 410.83,260.43 411.23,261.09 411.63,261.73 412.03,262.34 412.43,262.92 412.83,263.47 413.23,263.98 413.63,264.45 414.03,264.88 414.43,265.27 414.83,265.61 415.23,265.91 415.63,266.16 416.03,266.37 416.43,266.53 416.83,266.64 417.23,266.70 417.63,266.71 418.03,266.67 418.43,266.59 418.83,266.46 419.23,266.28 419.63,266.05 420.03,265.78 420.43,265.46 420.83,265.10 421.23,264.70 421.63,264.27 422.03,263.79 422.43,263.28 422.83,262.74 423.23,262.17 423.63,261.58 424.03,260.95 424.43,260.31 424.83,259.65 425.23,258.97 425.63,258.28 426.03,257.57 426.43,256.87 426.83,256.16 427.23,255.44 427.63,254.73 428.03,254.03 428.43,253.34 428.83,252.65 429.23,251.99 429.63,251.34 430.03,250.71 430.43,250.10 430.83,249.52 431.23,248.97 431.63,248.44 432.03,247.95 432.43,247.50 432.83,247.08 433.23,246.70 433.63,246.36 434.03,246.06 434.43,245.80 434.83,245.59 435.23,245.42 435.63,245.30 436.03,245.22 436.43,245.18 436.83,245.20 437.23,245.25 437.63,245.35 438.03,245.50 438.43,245.69 438.83,245.92 439.23,246.19 439.63,246.51 440.03,246.86 440.43,247.25 440.83,247.67 441.23,248.13 441.63,248.62 442.03,249.13 442.43,249.68 442.83,250.24 443.23,250.83 443.63,251.44 444.03,252.06 444.43,252.70 444.83,253.35 445.23,254.00 445.63,254.66 446.03,255.32 446.43,255.98 446.83,256.64 447.23,257.29 447.63,257.93 448.03,258.55 448.43,259.17 448.83,259.76 449.23,260.34 449.63,260.89 450.03,261.41 450.43,261.91 450.83,262.38 451.23,262.82 451.63,263.23 452.03,263.60 452.43,263.93 452.83,264.23 453.23,264.49 453.63,264.71 454.03,264.88 454.43,265.02 454.83,265.11 455.23,265.17 455.63,265.18 456.03,265.15 456.43,265.07 456.83,264.96 457.23,264.80 457.63,264.60 458.03,264.37 458.43,264.10 458.83,263.79 459.23,263.44 459.63,263.07 460.03,262.66 460.43,262.22 460.83,261.75 461.23,261.26 461.63,260.74 462.03,260.21 462.43,259.65 462.83,259.08 463.23,258.49 463.63,257.90 464.03,257.29 464.43,256.68 464.83,256.07 465.23,255.45 465.63,254.84 466.03,254.24 466.43,253.64 466.83,253.05 467.23,252.47 467.63,251.91 468.03,251.37 468.43,250.84 468.83,250.34 469.23,249.87 469.63,249.42 470.03,248.99 470.43,248.60 470.83,248.24 471.23,247.91 471.63,247.62 472.03,247.36 472.43,247.14 472.83,246.96 473.23,246.81 473.63,246.71 474.03,246.64 474.43,246.61 474.83,246.62 475.23,246.67 475.63,246.76 476.03,246.88 476.43,247.05 476.83,247.25 477.23,247.48 477.63,247.75 478.03,248.06 478.43,248.39 478.83,248.76 479.23,249.15 479.63,249.57 480.03,250.02 480.43,250.49 480.83,250.98 481.23,251.48 481.63,252.01 482.03,252.55 482.43,253.09 482.83,253.65 483.23,254.22 483.63,254.79 484.03,255.36 484.43,255.93 484.83,256.49 485.23,257.05 485.63,257.60 486.03,258.15 486.43,258.67 486.83,259.19 487.23,259.68 487.63,260.16 488.03,260.61 488.43,261.04 488.83,261.45 489.23,261.83 489.63,262.18 490.03,262.50 490.43,262.78 490.83,263.04 491.23,263.26 491.63,263.45 492.04,263.60 492.44,263.72 492.84,263.80 493.24,263.85 493.64,263.85 494.04,263.83 494.44,263.76 494.84,263.66 495.24,263.53 495.64,263.36 496.04,263.16 496.44,262.92 496.84,262.65 497.24,262.36 497.64,262.03 498.04,261.68 498.44,261.30 498.84,260.90 499.24,260.47 499.64,260.03 500.04,259.56 500.44,259.08 500.84,258.59 501.24,258.08 501.64,257.57 502.04,257.05 502.44,256.52 502.84,255.99 503.24,255.46 503.64,254.94 504.04,254.41 504.44,253.90 504.84,253.39 505.24,252.89 505.64,252.41 506.04,251.94 506.44,251.49 506.84,251.06 507.24,250.64 507.64,250.26 508.04,249.89 508.44,249.55 508.84,249.24 509.24,248.96 509.64,248.71 510.04,248.49 510.44,248.30 510.84,248.14 511.24,248.01 511.64,247.92 512.04,247.86 512.44,247.84 512.84,247.85 513.24,247.89 513.64,247.97 514.04,248.07 514.44,248.22 514.84,248.39 515.24,248.59 515.64,248.83 516.04,249.09 516.44,249.38 516.84,249.69 517.24,250.03 517.64,250.40 518.04,250.78 518.44,251.19 518.84,251.61 519.24,252.05 519.64,252.50 520.04,252.96 520.44,253.44 520.84,253.92 521.24,254.40 521.64,254.90 522.04,255.39 522.44,255.88 522.84,256.37 523.24,256.85 523.64,257.33 524.04,257.79 524.44,258.25 524.84,258.69 525.24,259.12 525.64,259.53 526.04,259.92 526.44,260.29 526.84,260.64 527.24,260.97 527.64,261.27 528.04,261.54 528.44,261.79 528.84,262.01 529.24,262.20 529.64,262.37 530.04,262.50 530.44,262.60 530.84,262.67 531.24,262.71 531.64,262.71 532.04,262.69 532.44,262.63 532.84,262.55 533.24,262.43 533.64,262.28 534.04,262.11 534.44,261.91 534.84,261.68 535.24,261.42 535.64,261.14 536.04,260.83 536.44,260.51 536.84,260.16 537.24,259.79 537.64,259.41 538.04,259.01 538.44,258.59 538.84,258.17 539.24,257.73 539.64,257.29 540.04,256.84 540.44,256.38 540.84,255.93 541.24,255.47 541.64,255.02 542.04,254.56 542.44,254.12 542.84,253.68 543.24,253.25 543.64,252.84 544.04,252.43 544.44,252.04 544.84,251.67 545.24,251.32 545.64,250.98 546.04,250.67 546.44,250.38 546.84,250.11 547.24,249.86 547.64,249.65 548.04,249.46 548.44,249.29 548.84,249.15 549.24,249.05 549.64,248.97 550.04,248.92 550.44,248.90 550.84,248.90 551.24,248.94 551.64,249.01 552.04,249.10 552.44,249.22 552.84,249.37 553.24,249.55 553.64,249.75 554.04,249.98 554.44,250.23 554.84,250.50 555.24,250.79 555.64,251.11 556.04,251.44 556.44,251.79 556.84,252.15 557.24,252.53 557.64,252.92 558.04,253.32 558.44,253.73 558.84,254.14 559.24,254.57 559.64,254.99 560.04,255.41 560.44,255.84 560.84,256.26 561.24,256.67 561.64,257.08 562.04,257.49 562.44,257.88 562.84,258.26 563.24,258.63 563.64,258.98 564.04,259.32 564.44,259.64 564.84,259.94 565.24,260.22 565.64,260.48 566.04,260.72 566.44,260.94 566.84,261.13 567.24,261.29 567.64,261.43 568.04,261.54 568.44,261.63 568.84,261.69 569.24,261.72 569.64,261.73 570.04,261.71 570.44,261.66 570.84,261.59 571.24,261.48 571.64,261.36 572.04,261.21 572.44,261.03 572.84,260.83 573.24,260.61 573.64,260.37 574.04,260.10 574.44,259.82 574.84,259.52 575.24,259.21 575.64,258.87 576.04,258.53 576.44,258.17 576.84,257.81 577.24,257.43 577.64,257.05 578.04,256.66 578.44,256.27 578.84,255.87 579.24,255.48 579.64,255.09 580.04,254.70 580.44,254.31 580.84,253.94 581.24,253.57 581.64,253.21 582.04,252.86 582.44,252.52 582.84,252.20 583.24,251.90 583.64,251.61 584.04,251.34 584.44,251.08 584.84,250.85 585.24,250.64 585.64,250.46 586.04,250.29 586.44,250.15 586.84,250.03 587.24,249.94 587.64,249.87 588.04,249.83 588.44,249.81 588.84,249.82 589.24,249.85 589.64,249.91 590.04,249.99 590.44,250.09 590.84,250.22 591.24,250.38 591.64,250.55 592.04,250.75 592.44,250.96 592.84,251.20 593.24,251.45 593.64,251.72 594.04,252.01 594.44,252.31 594.84,252.62 595.24,252.95 595.64,253.28 596.04,253.63 596.44,253.98 596.84,254.34 597.24,254.70 597.64,255.07 598.04,255.43 598.44,255.80 598.84,256.16 599.24,256.52 599.64,256.88 600.04,257.22 600.44,257.56 600.84,257.89 601.24,258.21 601.64,258.51 602.04,258.81 602.44,259.08 602.84,259.34 603.24,259.58 603.64,259.81 604.04,260.01 604.44,260.20 604.84,260.36 605.24,260.50 605.64,260.62 606.04,260.72 606.44,260.80 606.84,260.85 607.24,260.87 607.64,260.88 608.04,260.86 608.44,260.82 608.84,260.76 609.24,260.67 609.64,260.56 610.04,260.43 610.44,260.28 610.84,260.11 611.24,259.91 611.64,259.70 612.04,259.48 612.44,259.23 612.84,258.97 613.24,258.70 613.65,258.42 614.05,258.12 614.45,257.81 614.85,257.49 615.25,257.17 615.65,256.84 616.05,256.50 616.45,256.17 616.85,255.83 617.25,255.49 617.65,255.15 618.05,254.81 618.45,254.48 618.85,254.15 619.25,253.84 619.65,253.53 620.05,253.23 620.45,252.94 620.85,252.66 621.25,252.40 621.65,252.15 622.05,251.91 622.45,251.70 622.85,251.50 623.25,251.32 623.65,251.16 624.05,251.01 624.45,250.89 624.85,250.79 625.25,250.71 625.65,250.65 626.05,250.61 626.45,250.60 626.85,250.61 627.25,250.63 627.65,250.68 628.05,250.75 628.45,250.85 628.85,250.96 629.25,251.09 629.65,251.24 630.05,251.41 630.45,251.59 630.85,251.80 631.25,252.01 631.65,252.25 632.05,252.50 632.45,252.76 632.85,253.03 633.25,253.31 633.65,253.60 634.05,253.90 634.45,254.20 634.85,254.51 635.25,254.82 635.65,255.14 636.05,255.45 636.45,255.77 636.85,256.08 637.25,256.39 637.65,256.70 638.05,257.00 638.45,257.29 638.85,257.57 639.25,257.85 639.65,258.11 640.05,258.36 640.45,258.60 640.85,258.82 641.25,259.03 641.65,259.22 642.05,259.40 642.45,259.56 642.85,259.70 643.25,259.82 643.65,259.93 644.05,260.01 644.45,260.07 644.85,260.12 645.25,260.14 645.65,260.15 646.05,260.13 646.45,260.10 646.85,260.04 647.25,259.96 647.65,259.87 648.05,259.76 648.45,259.63 648.85,259.48 649.25,259.31 649.65,259.13 650.05,258.94 650.45,258.73 650.85,258.50 651.25,258.27 651.65,258.02 652.05,257.76 652.45,257.50 652.85,257.22 653.25,256.94 653.65,256.66 654.05,256.37 654.45,256.08 654.85,255.79 655.25,255.49 655.65,255.20 656.05,254.91 656.45,254.63 656.85,254.34 657.25,254.07 657.65,253.80 658.05,253.54 658.45,253.29 658.85,253.05 659.25,252.83 659.65,252.61 660.05,252.41 660.45,252.22 660.85,252.05 661.25,251.90 661.65,251.76 662.05,251.64 662.45,251.53 662.85,251.44 663.25,251.37 663.65,251.32 664.05,251.29 664.45,251.28 664.85,251.29 665.25,251.31 665.65,251.35 666.05,251.41 666.45,251.49 666.85,251.59 667.25,251.70 667.65,251.83 668.05,251.98 668.45,252.14 668.85,252.31 669.25,252.50 669.65,252.70 670.05,252.92 670.45,253.14 670.85,253.38 671.25,253.62 671.65,253.87 672.05,254.13 672.45,254.39 672.85,254.65 673.25,254.92 673.65,255.20 674.05,255.47 674.45,255.74"/>
<g class="t">
<text x="61.73" y="320.70" font-size="16.8" fill="#262626">0</text>
<text x="115.53" y="320.70" font-size="16.8" fill="#262626">0.5</text>
<path transform="translate(183.34,320.70) scale(0.00820,-0.00820)" d="M763 0L583 0L583 1147Q518 1085 412 1023Q306 961 222 930L222 1104Q373 1175 486 1276Q599 1377 646 1466L763 1466Z" fill="#262626"/>
<path transform="translate(237.14,320.70) scale(0.00820,-0.00820)" d="M763 0L583 0L583 1147Q518 1085 412 1023Q306 961 222 930L222 1104Q373 1175 486 1276Q599 1377 646 1466L763 1466Z" fill="#262626"/>
<text x="246.48" y="320.70" font-size="16.8" fill="#262626">.5</text>
<text x="304.95" y="320.70" font-size="16.8" fill="#262626">2</text>
<text x="358.75" y="320.70" font-size="16.8" fill="#262626">2.5</text>
<text x="426.56" y="320.70" font-size="16.8" fill="#262626">3</text>
<text x="480.36" y="320.70" font-size="16.8" fill="#262626">3.5</text>
<text x="548.17" y="320.70" font-size="16.8" fill="#262626">4</text>
<text x="601.97" y="320.70" font-size="16.8" fill="#262626">4.5</text>
<text x="669.78" y="320.70" font-size="16.8" fill="#262626">5</text>
<text x="52.36" y="306.11" font-size="16.8" fill="#262626">2</text>
<rect x="40.76" y="300.76" width="9.8" height="1.2" fill="#262626"/>
<text x="52.36" y="262.31" font-size="16.8" fill="#262626">0</text>
<text x="52.36" y="217.51" font-size="16.8" fill="#262626">2</text>
<text font-size="18.45" fill="#262626" text-anchor="middle" x="370.43" y="343.80">Time in s</text>
<text font-size="18.45" fill="#262626" text-anchor="middle" transform="translate(32.20,255.60) rotate(-90)">Velocity in m/s</text>
<text font-weight="bold" font-size="18.5" fill="#000" x="351.0" y="198.9">X</text>
<path d="M366.30,181.80L366.30,179.50M366.30,181.80L368.49,181.09M366.30,181.80L367.65,183.66M366.30,181.80L364.95,183.66M366.30,181.80L364.11,181.09" stroke="#000" stroke-width="1.25" stroke-linecap="round" fill="none"/>
<path transform="translate(363.80,207.80) scale(0.00708,-0.00708)" d="M838 0L557 0L557 1059Q403 915 194 846L194 1101Q304 1137 433 1237Q562 1337 610 1466L838 1466Z" fill="#000"/>
<text font-weight="bold" font-size="18.5" fill="#000" x="371.6" y="198.9">(0)</text>
</g>
<path d="M66.40,475.60V469.52M66.40,388.50V394.58M127.33,475.60V469.52M127.33,388.50V394.58M188.25,475.60V469.52M188.25,388.50V394.58M249.18,475.60V469.52M249.18,388.50V394.58M310.11,475.60V469.52M310.11,388.50V394.58M371.03,475.60V469.52M371.03,388.50V394.58M431.96,475.60V469.52M431.96,388.50V394.58M492.89,475.60V469.52M492.89,388.50V394.58M553.81,475.60V469.52M553.81,388.50V394.58M614.74,475.60V469.52M614.74,388.50V394.58M66.40,475.60H72.48M674.45,475.60H668.37M66.40,432.00H72.48M674.45,432.00H668.37M66.40,388.50H72.48M674.45,388.50H668.37" stroke="#262626" stroke-width="1" fill="none"/>
<path d="M65.90,388.50H674.95M65.90,475.60H674.95M66.40,388.50V475.60M674.45,388.50V475.60" fill="none" stroke="#262626" stroke-width="1"/>
<polyline fill="none" stroke="#0072bd" stroke-width="1.1" stroke-linejoin="round" points="67.00,432.05 67.40,434.95 67.80,437.84 68.20,440.69 68.60,443.49 69.00,446.23 69.40,448.90 69.80,451.50 70.20,453.99 70.60,456.39 71.00,458.67 71.40,460.82 71.80,462.85 72.20,464.73 72.60,466.47 73.00,468.04 73.40,469.46 73.80,470.71 74.20,471.79 74.60,472.68 75.00,473.40 75.40,473.94 75.80,474.29 76.20,474.45 76.60,474.43 77.00,474.22 77.40,473.83 77.80,473.26 78.20,472.51 78.60,471.59 79.00,470.49 79.41,469.23 79.81,467.81 80.21,466.24 80.61,464.53 81.01,462.68 81.41,460.70 81.81,458.60 82.21,456.39 82.61,454.08 83.01,451.69 83.41,449.21 83.81,446.67 84.21,444.07 84.61,441.43 85.01,438.75 85.41,436.06 85.81,433.35 86.21,430.65 86.61,427.96 87.01,425.30 87.41,422.67 87.81,420.10 88.21,417.58 88.61,415.14 89.01,412.77 89.41,410.50 89.81,408.33 90.21,406.27 90.61,404.33 91.01,402.52 91.41,400.84 91.81,399.31 92.21,397.92 92.61,396.68 93.01,395.61 93.41,394.69 93.81,393.94 94.21,393.36 94.61,392.96 95.01,392.72 95.41,392.66 95.81,392.77 96.21,393.05 96.61,393.50 97.01,394.12 97.41,394.90 97.81,395.84 98.21,396.94 98.61,398.18 99.01,399.57 99.41,401.10 99.81,402.76 100.21,404.54 100.61,406.44 101.01,408.44 101.41,410.54 101.81,412.73 102.21,415.00 102.61,417.33 103.01,419.72 103.41,422.16 103.82,424.63 104.22,427.12 104.62,429.63 105.02,432.15 105.42,434.65 105.82,437.14 106.22,439.59 106.62,442.01 107.02,444.37 107.42,446.68 107.82,448.91 108.22,451.06 108.62,453.12 109.02,455.08 109.42,456.94 109.82,458.68 110.22,460.30 110.62,461.79 111.02,463.15 111.42,464.37 111.82,465.44 112.22,466.36 112.62,467.13 113.02,467.74 113.42,468.20 113.82,468.49 114.22,468.63 114.62,468.60 115.02,468.42 115.42,468.08 115.82,467.58 116.22,466.92 116.62,466.12 117.02,465.17 117.42,464.08 117.82,462.85 118.22,461.49 118.62,460.01 119.02,458.40 119.42,456.69 119.82,454.88 120.22,452.97 120.62,450.98 121.02,448.91 121.42,446.77 121.82,444.57 122.22,442.33 122.62,440.05 123.02,437.74 123.42,435.41 123.82,433.08 124.22,430.75 124.62,428.43 125.02,426.13 125.42,423.87 125.82,421.65 126.22,419.48 126.62,417.38 127.02,415.34 127.42,413.39 127.83,411.52 128.23,409.75 128.63,408.08 129.03,406.52 129.43,405.08 129.83,403.76 130.23,402.56 130.63,401.50 131.03,400.58 131.43,399.80 131.83,399.16 132.23,398.66 132.63,398.32 133.03,398.12 133.43,398.07 133.83,398.17 134.23,398.42 134.63,398.81 135.03,399.35 135.43,400.03 135.83,400.85 136.23,401.80 136.63,402.88 137.03,404.09 137.43,405.41 137.83,406.84 138.23,408.39 138.63,410.03 139.03,411.76 139.43,413.57 139.83,415.46 140.23,417.42 140.63,419.43 141.03,421.50 141.43,423.60 141.83,425.73 142.23,427.89 142.63,430.05 143.03,432.22 143.43,434.38 143.83,436.52 144.23,438.64 144.63,440.72 145.03,442.76 145.43,444.74 145.83,446.67 146.23,448.52 146.63,450.29 147.03,451.98 147.43,453.58 147.83,455.08 148.23,456.47 148.63,457.75 149.03,458.92 149.43,459.96 149.83,460.88 150.23,461.67 150.63,462.33 151.03,462.85 151.43,463.24 151.83,463.49 152.24,463.60 152.64,463.58 153.04,463.41 153.44,463.11 153.84,462.67 154.24,462.11 154.64,461.41 155.04,460.58 155.44,459.64 155.84,458.57 156.24,457.40 156.64,456.11 157.04,454.73 157.44,453.25 157.84,451.68 158.24,450.03 158.64,448.31 159.04,446.52 159.44,444.67 159.84,442.78 160.24,440.84 160.64,438.87 161.04,436.88 161.44,434.87 161.84,432.86 162.24,430.85 162.64,428.85 163.04,426.87 163.44,424.92 163.84,423.01 164.24,421.14 164.64,419.33 165.04,417.57 165.44,415.89 165.84,414.28 166.24,412.75 166.64,411.32 167.04,409.98 167.44,408.74 167.84,407.60 168.24,406.58 168.64,405.67 169.04,404.88 169.44,404.21 169.84,403.66 170.24,403.24 170.64,402.94 171.04,402.78 171.44,402.74 171.84,402.83 172.24,403.05 172.64,403.40 173.04,403.87 173.44,404.46 173.84,405.17 174.24,405.99 174.64,406.93 175.04,407.97 175.44,409.12 175.84,410.36 176.24,411.69 176.65,413.11 177.05,414.61 177.45,416.17 177.85,417.81 178.25,419.50 178.65,421.23 179.05,423.02 179.45,424.83 179.85,426.67 180.25,428.53 180.65,430.40 181.05,432.27 181.45,434.13 181.85,435.98 182.25,437.81 182.65,439.60 183.05,441.36 183.45,443.07 183.85,444.72 184.25,446.32 184.65,447.85 185.05,449.30 185.45,450.67 185.85,451.96 186.25,453.16 186.65,454.26 187.05,455.26 187.45,456.16 187.85,456.95 188.25,457.63 188.65,458.19 189.05,458.64 189.45,458.97 189.85,459.18 190.25,459.27 190.65,459.24 191.05,459.09 191.45,458.83 191.85,458.45 192.25,457.95 192.65,457.35 193.05,456.63 193.45,455.81 193.85,454.89 194.25,453.87 194.65,452.76 195.05,451.56 195.45,450.28 195.85,448.93 196.25,447.50 196.65,446.01 197.05,444.47 197.45,442.88 197.85,441.24 198.25,439.57 198.65,437.87 199.05,436.15 199.45,434.42 199.85,432.68 200.25,430.95 200.66,429.22 201.06,427.52 201.46,425.83 201.86,424.19 202.26,422.58 202.66,421.01 203.06,419.50 203.46,418.05 203.86,416.67 204.26,415.36 204.66,414.12 205.06,412.97 205.46,411.90 205.86,410.92 206.26,410.04 206.66,409.26 207.06,408.59 207.46,408.01 207.86,407.54 208.26,407.18 208.66,406.94 209.06,406.80 209.46,406.77 209.86,406.85 210.26,407.05 210.66,407.35 211.06,407.76 211.46,408.27 211.86,408.89 212.26,409.60 212.66,410.41 213.06,411.32 213.46,412.31 213.86,413.38 214.26,414.54 214.66,415.76 215.06,417.05 215.46,418.41 215.86,419.82 216.26,421.28 216.66,422.78 217.06,424.32 217.46,425.88 217.86,427.47 218.26,429.08 218.66,430.69 219.06,432.30 219.46,433.91 219.86,435.50 220.26,437.08 220.66,438.62 221.06,440.14 221.46,441.61 221.86,443.04 222.26,444.41 222.66,445.73 223.06,446.98 223.46,448.16 223.86,449.27 224.26,450.30 224.66,451.25 225.07,452.11 225.47,452.88 225.87,453.55 226.27,454.13 226.67,454.61 227.07,455.00 227.47,455.28 227.87,455.45 228.27,455.53 228.67,455.50 229.07,455.37 229.47,455.14 229.87,454.81 230.27,454.38 230.67,453.85 231.07,453.23 231.47,452.52 231.87,451.72 232.27,450.84 232.67,449.88 233.07,448.84 233.47,447.73 233.87,446.56 234.27,445.33 234.67,444.04 235.07,442.71 235.47,441.33 235.87,439.92 236.27,438.48 236.67,437.01 237.07,435.53 237.47,434.03 237.87,432.54 238.27,431.04 238.67,429.55 239.07,428.08 239.47,426.63 239.87,425.21 240.27,423.82 240.67,422.48 241.07,421.18 241.47,419.93 241.87,418.74 242.27,417.61 242.67,416.54 243.07,415.55 243.47,414.63 243.87,413.80 244.27,413.04 244.67,412.37 245.07,411.79 245.47,411.30 245.87,410.90 246.27,410.59 246.67,410.38 247.07,410.27 247.47,410.25 247.87,410.32 248.27,410.49 248.67,410.75 249.07,411.11 249.48,411.56 249.88,412.09 250.28,412.71 250.68,413.42 251.08,414.20 251.48,415.06 251.88,415.99 252.28,416.98 252.68,418.04 253.08,419.16 253.48,420.33 253.88,421.55 254.28,422.81 254.68,424.11 255.08,425.43 255.48,426.79 255.88,428.16 256.28,429.54 256.68,430.93 257.08,432.32 257.48,433.71 257.88,435.08 258.28,436.44 258.68,437.77 259.08,439.07 259.48,440.34 259.88,441.57 260.28,442.76 260.68,443.89 261.08,444.97 261.48,445.98 261.88,446.94 262.28,447.82 262.68,448.64 263.08,449.38 263.48,450.04 263.88,450.62 264.28,451.12 264.68,451.53 265.08,451.85 265.48,452.09 265.88,452.24 266.28,452.30 266.68,452.28 267.08,452.16 267.48,451.96 267.88,451.67 268.28,451.29 268.68,450.83 269.08,450.30 269.48,449.68 269.88,448.99 270.28,448.22 270.68,447.39 271.08,446.50 271.48,445.54 271.88,444.53 272.28,443.46 272.68,442.35 273.08,441.20 273.48,440.01 273.89,438.79 274.29,437.55 274.69,436.28 275.09,435.00 275.49,433.71 275.89,432.42 276.29,431.13 276.69,429.85 277.09,428.58 277.49,427.33 277.89,426.10 278.29,424.91 278.69,423.75 279.09,422.63 279.49,421.55 279.89,420.53 280.29,419.55 280.69,418.64 281.09,417.79 281.49,417.00 281.89,416.28 282.29,415.63 282.69,415.05 283.09,414.55 283.49,414.13 283.89,413.79 284.29,413.53 284.69,413.35 285.09,413.26 285.49,413.24 285.89,413.31 286.29,413.46 286.69,413.69 287.09,414.00 287.49,414.39 287.89,414.85 288.29,415.39 288.69,416.00 289.09,416.68 289.49,417.42 289.89,418.23 290.29,419.09 290.69,420.00 291.09,420.97 291.49,421.98 291.89,423.03 292.29,424.12 292.69,425.24 293.09,426.39 293.49,427.55 293.89,428.74 294.29,429.93 294.69,431.13 295.09,432.33 295.49,433.53 295.89,434.71 296.29,435.88 296.69,437.03 297.09,438.15 297.49,439.25 297.90,440.30 298.30,441.32 298.70,442.30 299.10,443.23 299.50,444.10 299.90,444.92 300.30,445.69 300.70,446.39 301.10,447.02 301.50,447.59 301.90,448.09 302.30,448.51 302.70,448.86 303.10,449.14 303.50,449.34 303.90,449.47 304.30,449.52 304.70,449.49 305.10,449.39 305.50,449.21 305.90,448.96 306.30,448.63 306.70,448.24 307.10,447.77 307.50,447.24 307.90,446.64 308.30,445.97 308.70,445.26 309.10,444.48 309.50,443.65 309.90,442.78 310.30,441.86 310.70,440.90 311.10,439.90 311.50,438.88 311.90,437.82 312.30,436.75 312.70,435.66 313.10,434.55 313.50,433.44 313.90,432.32 314.30,431.21 314.70,430.11 315.10,429.01 315.50,427.94 315.90,426.88 316.30,425.85 316.70,424.85 317.10,423.89 317.50,422.96 317.90,422.08 318.30,421.24 318.70,420.45 319.10,419.72 319.50,419.04 319.90,418.42 320.30,417.86 320.70,417.37 321.10,416.94 321.50,416.58 321.90,416.29 322.31,416.07 322.71,415.92 323.11,415.84 323.51,415.83 323.91,415.89 324.31,416.02 324.71,416.22 325.11,416.49 325.51,416.83 325.91,417.23 326.31,417.70 326.71,418.23 327.11,418.82 327.51,419.46 327.91,420.15 328.31,420.90 328.71,421.69 329.11,422.53 329.51,423.40 329.91,424.31 330.31,425.25 330.71,426.22 331.11,427.20 331.51,428.21 331.91,429.23 332.31,430.26 332.71,431.30 333.11,432.33 333.51,433.36 333.91,434.38 334.31,435.39 334.71,436.38 335.11,437.35 335.51,438.29 335.91,439.21 336.31,440.08 336.71,440.92 337.11,441.72 337.51,442.48 337.91,443.18 338.31,443.84 338.71,444.44 339.11,444.98 339.51,445.47 339.91,445.90 340.31,446.26 340.71,446.56 341.11,446.80 341.51,446.97 341.91,447.08 342.31,447.12 342.71,447.09 343.11,447.00 343.51,446.85 343.91,446.63 344.31,446.34 344.71,446.00 345.11,445.59 345.51,445.13 345.91,444.61 346.31,444.04 346.72,443.42 347.12,442.74 347.52,442.03 347.92,441.27 348.32,440.48 348.72,439.65 349.12,438.79 349.52,437.90 349.92,436.99 350.32,436.07 350.72,435.12 351.12,434.17 351.52,433.21 351.92,432.25 352.32,431.29 352.72,430.34 353.12,429.39 353.52,428.47 353.92,427.56 354.32,426.67 354.72,425.81 355.12,424.98 355.52,424.18 355.92,423.42 356.32,422.70 356.72,422.02 357.12,421.39 357.52,420.81 357.92,420.27 358.32,419.80 358.72,419.37 359.12,419.01 359.52,418.70 359.92,418.45 360.32,418.26 360.72,418.13 361.12,418.06 361.52,418.06 361.92,418.11 362.32,418.23 362.72,418.41 363.12,418.64 363.52,418.94 363.92,419.28 364.32,419.69 364.72,420.15 365.12,420.65 365.52,421.21 365.92,421.81 366.32,422.46 366.72,423.14 367.12,423.86 367.52,424.62 367.92,425.40 368.32,426.22 368.72,427.05 369.12,427.90 369.52,428.77 369.92,429.65 370.32,430.54 370.73,431.44 371.13,432.33 371.53,433.22 371.93,434.10 372.33,434.97 372.73,435.82 373.13,436.66 373.53,437.47 373.93,438.25 374.33,439.01 374.73,439.73 375.13,440.42 375.53,441.07 375.93,441.67 376.33,442.24 376.73,442.75 377.13,443.22 377.53,443.64 377.93,444.01 378.33,444.32 378.73,444.58 379.13,444.78 379.53,444.93 379.93,445.02 380.33,445.05 380.73,445.03 381.13,444.94 381.53,444.81 381.93,444.61 382.33,444.37 382.73,444.07 383.13,443.72 383.53,443.32 383.93,442.87 384.33,442.37 384.73,441.83 385.13,441.25 385.53,440.63 385.93,439.98 386.33,439.29 386.73,438.58 387.13,437.83 387.53,437.07 387.93,436.28 388.33,435.48 388.73,434.67 389.13,433.85 389.53,433.02 389.93,432.19 390.33,431.36 390.73,430.54 391.13,429.73 391.53,428.93 391.93,428.14 392.33,427.38 392.73,426.64 393.13,425.92 393.53,425.23 393.93,424.58 394.33,423.96 394.73,423.38 395.14,422.83 395.54,422.33 395.94,421.88 396.34,421.46 396.74,421.10 397.14,420.79 397.54,420.52 397.94,420.31 398.34,420.15 398.74,420.04 399.14,419.98 399.54,419.98 399.94,420.03 400.34,420.13 400.74,420.29 401.14,420.49 401.54,420.75 401.94,421.05 402.34,421.40 402.74,421.80 403.14,422.24 403.54,422.72 403.94,423.24 404.34,423.80 404.74,424.39 405.14,425.01 405.54,425.67 405.94,426.34 406.34,427.04 406.74,427.77 407.14,428.50 407.54,429.25 407.94,430.01 408.34,430.78 408.74,431.55 409.14,432.32 409.54,433.09 409.94,433.85 410.34,434.60 410.74,435.33 411.14,436.05 411.54,436.75 411.94,437.43 412.34,438.08 412.74,438.70 413.14,439.29 413.54,439.85 413.94,440.37 414.34,440.86 414.74,441.30 415.14,441.70 415.54,442.06 415.94,442.38 416.34,442.64 416.74,442.86 417.14,443.04 417.54,443.16 417.94,443.24 418.34,443.26 418.74,443.24 419.14,443.17 419.55,443.05 419.95,442.88 420.35,442.67 420.75,442.41 421.15,442.10 421.55,441.75 421.95,441.36 422.35,440.93 422.75,440.47 423.15,439.97 423.55,439.43 423.95,438.87 424.35,438.27 424.75,437.66 425.15,437.01 425.55,436.35 425.95,435.68 426.35,434.98 426.75,434.28 427.15,433.57 427.55,432.86 427.95,432.14 428.35,431.43 428.75,430.72 429.15,430.02 429.55,429.33 429.95,428.65 430.35,427.99 430.75,427.36 431.15,426.74 431.55,426.15 431.95,425.58 432.35,425.05 432.75,424.55 433.15,424.08 433.55,423.65 433.95,423.26 434.35,422.91 434.75,422.59 435.15,422.32 435.55,422.10 435.95,421.92 436.35,421.78 436.75,421.69 437.15,421.64 437.55,421.64 437.95,421.69 438.35,421.78 438.75,421.91 439.15,422.09 439.55,422.31 439.95,422.57 440.35,422.88 440.75,423.22 441.15,423.60 441.55,424.02 441.95,424.47 442.35,424.95 442.75,425.46 443.15,426.00 443.55,426.57 443.96,427.15 444.36,427.76 444.76,428.38 445.16,429.02 445.56,429.66 445.96,430.32 446.36,430.98 446.76,431.65 447.16,432.31 447.56,432.97 447.96,433.62 448.36,434.27 448.76,434.90 449.16,435.52 449.56,436.13 449.96,436.71 450.36,437.27 450.76,437.81 451.16,438.32 451.56,438.80 451.96,439.25 452.36,439.66 452.76,440.04 453.16,440.39 453.56,440.70 453.96,440.97 454.36,441.20 454.76,441.39 455.16,441.53 455.56,441.64 455.96,441.70 456.36,441.72 456.76,441.70 457.16,441.64 457.56,441.53 457.96,441.39 458.36,441.20 458.76,440.97 459.16,440.71 459.56,440.41 459.96,440.07 460.36,439.70 460.76,439.30 461.16,438.86 461.56,438.40 461.96,437.91 462.36,437.40 462.76,436.86 463.16,436.31 463.56,435.74 463.96,435.15 464.36,434.56 464.76,433.95 465.16,433.34 465.56,432.72 465.96,432.11 466.36,431.49 466.76,430.88 467.16,430.27 467.56,429.68 467.97,429.10 468.37,428.53 468.77,427.98 469.17,427.45 469.57,426.94 469.97,426.45 470.37,426.00 470.77,425.56 471.17,425.16 471.57,424.79 471.97,424.45 472.37,424.15 472.77,423.88 473.17,423.65 473.57,423.46 473.97,423.30 474.37,423.19 474.77,423.11 475.17,423.07 475.57,423.07 475.97,423.11 476.37,423.19 476.77,423.31 477.17,423.46 477.57,423.66 477.97,423.89 478.37,424.15 478.77,424.45 479.17,424.78 479.57,425.14 479.97,425.53 480.37,425.94 480.77,426.39 481.17,426.85 481.57,427.34 481.97,427.84 482.37,428.37 482.77,428.90 483.17,429.45 483.57,430.01 483.97,430.58 484.37,431.15 484.77,431.72 485.17,432.30 485.57,432.87 485.97,433.43 486.37,433.99 486.77,434.53 487.17,435.07 487.57,435.59 487.97,436.09 488.37,436.57 488.77,437.03 489.17,437.47 489.57,437.88 489.97,438.27 490.37,438.63 490.77,438.96 491.17,439.25 491.57,439.52 491.97,439.75 492.38,439.95 492.78,440.11 493.18,440.23 493.58,440.32 493.98,440.38 494.38,440.39 494.78,440.37 495.18,440.32 495.58,440.23 495.98,440.10 496.38,439.94 496.78,439.74 497.18,439.51 497.58,439.25 497.98,438.96 498.38,438.63 498.78,438.29 499.18,437.91 499.58,437.51 499.98,437.09 500.38,436.65 500.78,436.18 501.18,435.71 501.58,435.21 501.98,434.71 502.38,434.19 502.78,433.67 503.18,433.14 503.58,432.61 503.98,432.08 504.38,431.55 504.78,431.02 505.18,430.50 505.58,429.99 505.98,429.48 506.38,429.00 506.78,428.52 507.18,428.06 507.58,427.63 507.98,427.21 508.38,426.81 508.78,426.44 509.18,426.10 509.58,425.78 509.98,425.49 510.38,425.23 510.78,425.00 511.18,424.80 511.58,424.63 511.98,424.50 512.38,424.40 512.78,424.34 513.18,424.30 513.58,424.31 513.98,424.34 514.38,424.41 514.78,424.51 515.18,424.65 515.58,424.82 515.98,425.02 516.38,425.24 516.79,425.50 517.19,425.79 517.59,426.10 517.99,426.44 518.39,426.80 518.79,427.18 519.19,427.58 519.59,428.00 519.99,428.44 520.39,428.89 520.79,429.36 521.19,429.83 521.59,430.31 521.99,430.80 522.39,431.29 522.79,431.79 523.19,432.28 523.59,432.77 523.99,433.26 524.39,433.74 524.79,434.21 525.19,434.67 525.59,435.12 525.99,435.55 526.39,435.97 526.79,436.36 527.19,436.74 527.59,437.10 527.99,437.43 528.39,437.74 528.79,438.02 529.19,438.27 529.59,438.50 529.99,438.70 530.39,438.87 530.79,439.01 531.19,439.11 531.59,439.19 531.99,439.23 532.39,439.25 532.79,439.23 533.19,439.18 533.59,439.10 533.99,438.99 534.39,438.85 534.79,438.67 535.19,438.48 535.59,438.25 535.99,438.00 536.39,437.72 536.79,437.42 537.19,437.09 537.59,436.75 537.99,436.38 538.39,436.00 538.79,435.60 539.19,435.19 539.59,434.76 539.99,434.32 540.39,433.88 540.79,433.43 541.20,432.97 541.60,432.51 542.00,432.06 542.40,431.60 542.80,431.14 543.20,430.69 543.60,430.25 544.00,429.82 544.40,429.40 544.80,428.99 545.20,428.60 545.60,428.22 546.00,427.86 546.40,427.52 546.80,427.20 547.20,426.90 547.60,426.63 548.00,426.38 548.40,426.16 548.80,425.96 549.20,425.79 549.60,425.65 550.00,425.53 550.40,425.45 550.80,425.39 551.20,425.37 551.60,425.37 552.00,425.40 552.40,425.46 552.80,425.55 553.20,425.67 553.60,425.82 554.00,425.99 554.40,426.19 554.80,426.41 555.20,426.66 555.60,426.93 556.00,427.22 556.40,427.53 556.80,427.86 557.20,428.21 557.60,428.57 558.00,428.95 558.40,429.34 558.80,429.74 559.20,430.15 559.60,430.57 560.00,430.99 560.40,431.41 560.80,431.84 561.20,432.27 561.60,432.69 562.00,433.11 562.40,433.52 562.80,433.93 563.20,434.33 563.60,434.71 564.00,435.08 564.40,435.44 564.80,435.78 565.21,436.11 565.61,436.41 566.01,436.70 566.41,436.97 566.81,437.21 567.21,437.43 567.61,437.62 568.01,437.79 568.41,437.94 568.81,438.05 569.21,438.15 569.61,438.21 570.01,438.25 570.41,438.26 570.81,438.24 571.21,438.20 571.61,438.13 572.01,438.03 572.41,437.91 572.81,437.76 573.21,437.59 573.61,437.39 574.01,437.17 574.41,436.93 574.81,436.67 575.21,436.39 575.61,436.09 576.01,435.77 576.41,435.44 576.81,435.10 577.21,434.74 577.61,434.37 578.01,434.00 578.41,433.61 578.81,433.22 579.21,432.83 579.61,432.44 580.01,432.04 580.41,431.64 580.81,431.25 581.21,430.87 581.61,430.48 582.01,430.11 582.41,429.75 582.81,429.40 583.21,429.06 583.61,428.73 584.01,428.42 584.41,428.13 584.81,427.86 585.21,427.60 585.61,427.37 586.01,427.15 586.41,426.96 586.81,426.79 587.21,426.64 587.61,426.52 588.01,426.43 588.41,426.35 588.81,426.31 589.21,426.29 589.62,426.29 590.02,426.32 590.42,426.37 590.82,426.45 591.22,426.55 591.62,426.68 592.02,426.83 592.42,427.00 592.82,427.19 593.22,427.41 593.62,427.64 594.02,427.89 594.42,428.16 594.82,428.45 595.22,428.75 595.62,429.06 596.02,429.39 596.42,429.73 596.82,430.07 597.22,430.43 597.62,430.79 598.02,431.15 598.42,431.52 598.82,431.88 599.22,432.25 599.62,432.62 600.02,432.98 600.42,433.33 600.82,433.68 601.22,434.03 601.62,434.36 602.02,434.68 602.42,434.99 602.82,435.28 603.22,435.56 603.62,435.82 604.02,436.07 604.42,436.30 604.82,436.51 605.22,436.69 605.62,436.86 606.02,437.01 606.42,437.13 606.82,437.23 607.22,437.31 607.62,437.37 608.02,437.40 608.42,437.40 608.82,437.39 609.22,437.35 609.62,437.29 610.02,437.20 610.42,437.10 610.82,436.97 611.22,436.82 611.62,436.65 612.02,436.46 612.42,436.25 612.82,436.02 613.22,435.78 613.62,435.52 614.03,435.25 614.43,434.97 614.83,434.67 615.23,434.36 615.63,434.04 616.03,433.72 616.43,433.39 616.83,433.05 617.23,432.71 617.63,432.37 618.03,432.03 618.43,431.69 618.83,431.35 619.23,431.02 619.63,430.69 620.03,430.37 620.43,430.05 620.83,429.75 621.23,429.46 621.63,429.18 622.03,428.91 622.43,428.66 622.83,428.42 623.23,428.20 623.63,428.00 624.03,427.82 624.43,427.65 624.83,427.51 625.23,427.38 625.63,427.28 626.03,427.20 626.43,427.14 626.83,427.10 627.23,427.08 627.63,427.08 628.03,427.11 628.43,427.15 628.83,427.22 629.23,427.31 629.63,427.42 630.03,427.55 630.43,427.70 630.83,427.87 631.23,428.05 631.63,428.26 632.03,428.47 632.43,428.71 632.83,428.95 633.23,429.21 633.63,429.48 634.03,429.77 634.43,430.06 634.83,430.36 635.23,430.66 635.63,430.97 636.03,431.29 636.43,431.60 636.83,431.92 637.23,432.24 637.63,432.55 638.04,432.86 638.44,433.17 638.84,433.47 639.24,433.77 639.64,434.05 640.04,434.33 640.44,434.59 640.84,434.85 641.24,435.09 641.64,435.31 642.04,435.53 642.44,435.72 642.84,435.90 643.24,436.06 643.64,436.21 644.04,436.33 644.44,436.44 644.84,436.52 645.24,436.59 645.64,436.64 646.04,436.66 646.44,436.67 646.84,436.65 647.24,436.62 647.64,436.57 648.04,436.49 648.44,436.40 648.84,436.29 649.24,436.16 649.64,436.01 650.04,435.85 650.44,435.67 650.84,435.47 651.24,435.26 651.64,435.04 652.04,434.80 652.44,434.55 652.84,434.30 653.24,434.03 653.64,433.76 654.04,433.48 654.44,433.19 654.84,432.90 655.24,432.61 655.64,432.31 656.04,432.02 656.44,431.73 656.84,431.43 657.24,431.15 657.64,430.86 658.04,430.59 658.44,430.32 658.84,430.06 659.24,429.80 659.64,429.56 660.04,429.33 660.44,429.12 660.84,428.91 661.24,428.73 661.64,428.55 662.04,428.39 662.45,428.25 662.85,428.13 663.25,428.02 663.65,427.93 664.05,427.86 664.45,427.81 664.85,427.78 665.25,427.76 665.65,427.76 666.05,427.79 666.45,427.83 666.85,427.89 667.25,427.97 667.65,428.06 668.05,428.17 668.45,428.30 668.85,428.45 669.25,428.61 669.65,428.78 670.05,428.97 670.45,429.17 670.85,429.39 671.25,429.61 671.65,429.85 672.05,430.09 672.45,430.34 672.85,430.60 673.25,430.86 673.65,431.13 674.05,431.40 674.45,431.67"/>
<g class="t">
<text x="61.73" y="496.90" font-size="16.8" fill="#262626">0</text>
<text x="115.65" y="496.90" font-size="16.8" fill="#262626">0.5</text>
<path transform="translate(183.58,496.90) scale(0.00820,-0.00820)" d="M763 0L583 0L583 1147Q518 1085 412 1023Q306 961 222 930L222 1104Q373 1175 486 1276Q599 1377 646 1466L763 1466Z" fill="#262626"/>
<path transform="translate(237.50,496.90) scale(0.00820,-0.00820)" d="M763 0L583 0L583 1147Q518 1085 412 1023Q306 961 222 930L222 1104Q373 1175 486 1276Q599 1377 646 1466L763 1466Z" fill="#262626"/>
<text x="246.85" y="496.90" font-size="16.8" fill="#262626">.5</text>
<text x="305.44" y="496.90" font-size="16.8" fill="#262626">2</text>
<text x="359.36" y="496.90" font-size="16.8" fill="#262626">2.5</text>
<text x="427.29" y="496.90" font-size="16.8" fill="#262626">3</text>
<text x="481.21" y="496.90" font-size="16.8" fill="#262626">3.5</text>
<text x="549.14" y="496.90" font-size="16.8" fill="#262626">4</text>
<text x="603.06" y="496.90" font-size="16.8" fill="#262626">4.5</text>
<text x="43.01" y="482.31" font-size="16.8" fill="#262626">20</text>
<rect x="31.41" y="476.96" width="9.8" height="1.2" fill="#262626"/>
<text x="52.36" y="438.76" font-size="16.8" fill="#262626">0</text>
<text x="43.01" y="395.21" font-size="16.8" fill="#262626">20</text>
<text font-size="18.45" fill="#262626" text-anchor="middle" x="370.43" y="520.00">Time in s</text>
<text font-size="18.45" fill="#262626" text-anchor="middle" transform="translate(23.25,432.05) rotate(-90)">Velocity in m/s</text>
<text font-weight="bold" font-size="18.5" fill="#000" x="351.0" y="375.4">X</text>
<path d="M366.30,358.30L366.30,356.00M366.30,358.30L368.49,357.59M366.30,358.30L367.65,360.16M366.30,358.30L364.95,360.16M366.30,358.30L364.11,357.59" stroke="#000" stroke-width="1.25" stroke-linecap="round" fill="none"/>
<text x="363.80" y="384.30" font-size="14.5" font-weight="bold" fill="#000">2</text>
<text font-weight="bold" font-size="18.5" fill="#000" x="371.6" y="375.4">(0)</text>
</g>
</svg>
</body></html>
